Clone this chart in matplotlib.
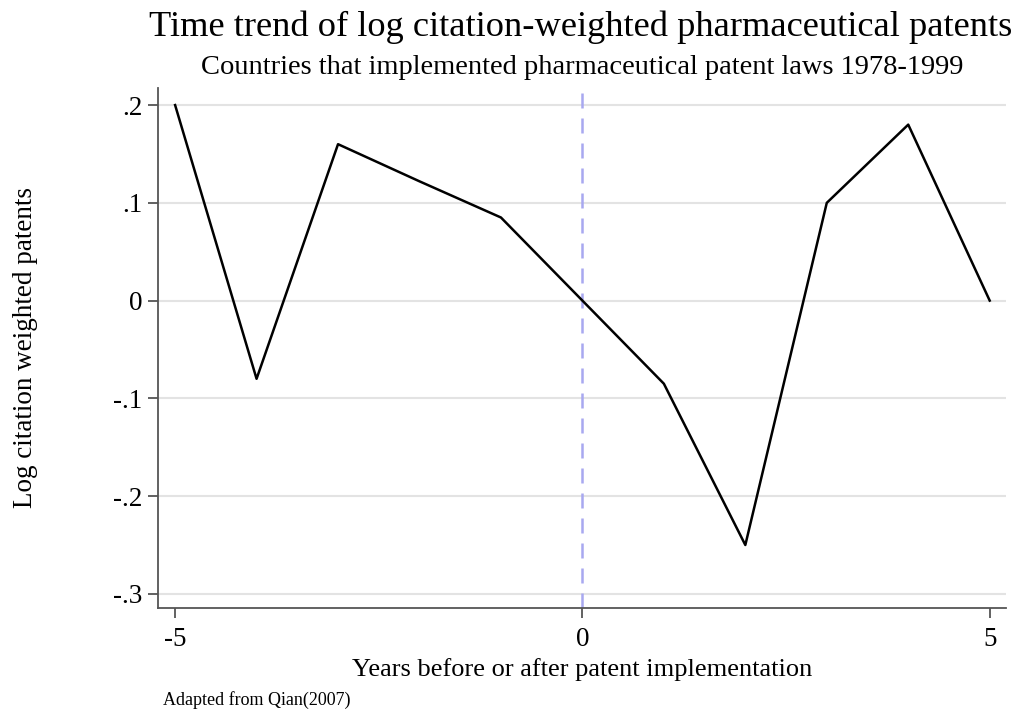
import matplotlib
matplotlib.use("Agg")
import matplotlib.pyplot as plt

plt.rcParams['font.family'] = ['Liberation Serif', 'DejaVu Serif']

# data
years = [-5, -4, -3, -2, -1, 0, 1, 2, 3, 4, 5]
log_cites = [0.2, -0.08, 0.16, 0.122, 0.085, 0.0, -0.085, -0.25, 0.1, 0.18, 0.0]
ytick_vals = [-0.3, -0.2, -0.1, 0, 0.1, 0.2]
ytick_labels = ['-.3', '-.2', '-.1', '0', '.1', '.2']
xtick_vals = [-5, 0, 5]
xtick_labels = ['-5', '0', '5']

fig = plt.figure(figsize=(10.26, 7.14), dpi=100)
ax = fig.add_axes([0.154, 0.1485, 0.8265, 0.7283])

for y in ytick_vals:
    ax.axhline(y, color='#e3e3e3', lw=1.5, zorder=0)
ax.axvline(0, color='#a8a8f0', lw=1.8, ls=(0, (6, 4)), zorder=1)
ax.plot(years, log_cites, color='black', lw=1.8, zorder=2)

ax.set_xlim(-5.21, 5.2)
ax.set_ylim(-0.3144, 0.2175)
ax.set_yticks(ytick_vals)
ax.set_yticklabels(ytick_labels)
ax.set_xticks(xtick_vals)
ax.set_xticklabels(xtick_labels)

for s in ['top', 'right']:
    ax.spines[s].set_visible(False)
for s in ['left', 'bottom']:
    ax.spines[s].set_color('#555555')
    ax.spines[s].set_linewidth(1.3)
ax.tick_params(axis='both', length=7, width=1.3, color='#555555', labelsize=19.5, pad=4)
ax.tick_params(axis='x', pad=7)

ax.set_xlabel('Years before or after patent implementation', fontsize=19, labelpad=4)
ax.set_ylabel('Log citation weighted patents', fontsize=19.5, labelpad=54)

fig.text(0.566, 0.962, 'Time trend of log citation-weighted pharmaceutical patents',
         ha='center', va='center', fontsize=26.2)
fig.text(0.567, 0.905, 'Countries that implemented pharmaceutical patent laws 1978-1999',
         ha='center', va='center', fontsize=20.5)
fig.text(0.159, 0.019, 'Adapted from Qian(2007)', ha='left', va='center', fontsize=13)

fig.savefig('out.png', dpi=100)
